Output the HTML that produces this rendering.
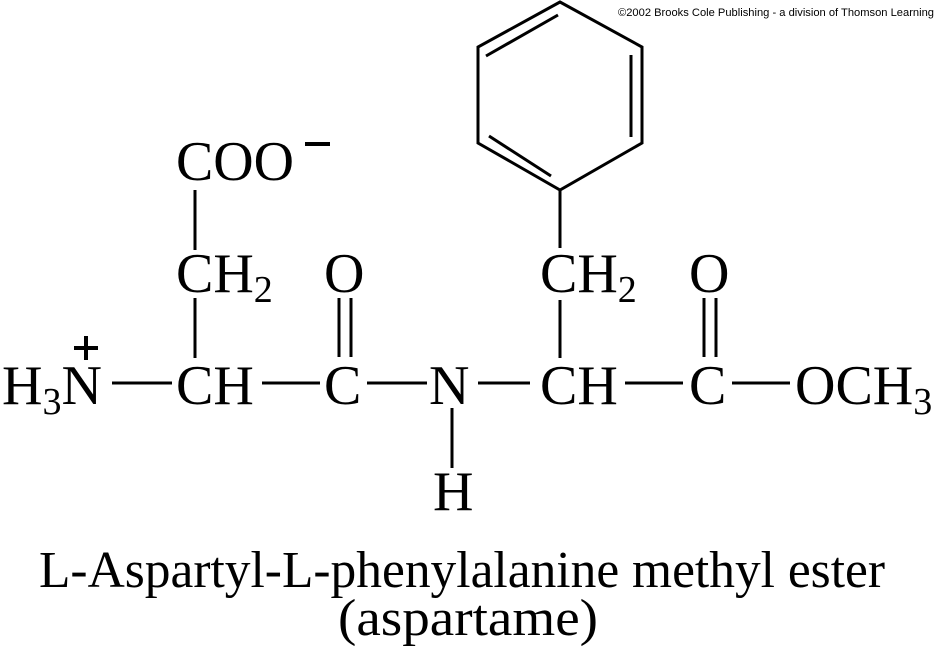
<!DOCTYPE html>
<html><head><meta charset="utf-8"><style>
html,body{margin:0;padding:0;background:#fff;}
svg{display:block;}
text{font-family:"Liberation Serif",serif;fill:#000;}
</style></head><body>
<svg width="939" height="650" viewBox="0 0 939 650">
<g stroke="#000" stroke-width="3" fill="none" stroke-linecap="butt">
<polygon points="560,2 478,47 478,143 560,190 642,143 642,47"/>
<line x1="486" y1="56" x2="558" y2="15"/>
<line x1="631" y1="55" x2="631" y2="137"/>
<line x1="489" y1="136" x2="551" y2="176"/>
<line x1="560" y1="190" x2="560" y2="248"/>
<line x1="560" y1="300" x2="560" y2="358"/>
<line x1="195" y1="190" x2="195" y2="250"/>
<line x1="195" y1="298" x2="195" y2="358"/>
<line x1="339" y1="298" x2="339" y2="357"/>
<line x1="351" y1="298" x2="351" y2="357"/>
<line x1="704" y1="298" x2="704" y2="357"/>
<line x1="716" y1="298" x2="716" y2="357"/>
<line x1="112" y1="383" x2="172" y2="383"/>
<line x1="262" y1="383" x2="320" y2="383"/>
<line x1="367" y1="383" x2="427" y2="383"/>
<line x1="478" y1="383" x2="530" y2="383"/>
<line x1="625" y1="383" x2="683" y2="383"/>
<line x1="732" y1="383" x2="790" y2="383"/>
<line x1="452" y1="408" x2="452" y2="468"/>
<line x1="305" y1="144" x2="330" y2="144" stroke-width="4"/>
<line x1="74" y1="348" x2="98" y2="348" stroke-width="4"/>
<line x1="86" y1="336" x2="86" y2="360" stroke-width="4"/>
</g>
<g font-size="56">
<text x="176" y="180" textLength="118" lengthAdjust="spacingAndGlyphs">COO</text>
<text x="176" y="292">CH<tspan font-size="38" dy="10">2</tspan></text>
<text x="324" y="292">O</text>
<text x="540" y="292">CH<tspan font-size="38" dy="10">2</tspan></text>
<text x="689" y="292">O</text>
<text x="2" y="404">H<tspan font-size="38" dy="10">3</tspan><tspan dy="-10">N</tspan></text>
<text x="176" y="404">CH</text>
<text x="324" y="404">C</text>
<text x="429" y="404">N</text>
<text x="540" y="404">CH</text>
<text x="689" y="404">C</text>
<text x="795" y="404">OCH<tspan font-size="38" dy="10">3</tspan></text>
<text x="433" y="510">H</text>
</g>
<text x="39" y="587" font-size="52" textLength="846" lengthAdjust="spacingAndGlyphs">L-Aspartyl-L-phenylalanine methyl ester</text>
<text x="338" y="635" font-size="52" textLength="260" lengthAdjust="spacingAndGlyphs">(aspartame)</text>
<text x="618" y="16" font-size="11" style="font-family:'Liberation Sans',sans-serif" textLength="316" lengthAdjust="spacingAndGlyphs">©2002 Brooks Cole Publishing - a division of Thomson Learning</text>
</svg>
</body></html>
